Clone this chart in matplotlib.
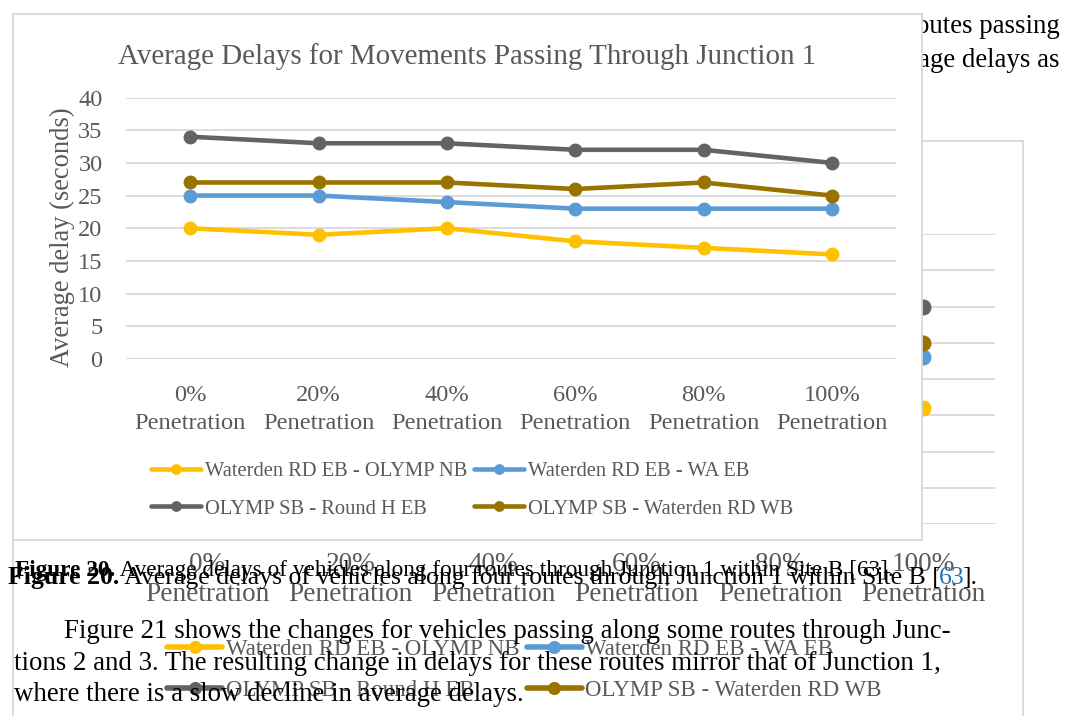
import matplotlib
matplotlib.use("Agg")
import matplotlib.pyplot as plt
from matplotlib.patches import Rectangle
from matplotlib.text import Annotation
from matplotlib.textpath import TextPath
from matplotlib.font_manager import FontProperties

SERIF = "Liberation Serif"
plt.rcParams["font.family"] = [SERIF, "DejaVu Serif"]

# data
categories = ["0%", "20%", "40%", "60%", "80%", "100%"]
tick_labels = [c + "\nPenetration" for c in categories]
series_names = [
    "Waterden RD EB - OLYMP NB",
    "Waterden RD EB - WA EB",
    "OLYMP SB - Round H EB",
    "OLYMP SB - Waterden RD WB",
]
yellow_vals = [20, 19, 20, 18, 17, 16]
blue_vals = [25, 25, 24, 23, 23, 23]
gray_vals = [34, 33, 33, 32, 32, 30]
brown_vals = [27, 27, 27, 26, 27, 25]
series_colors = ["#FFC000", "#5B9BD5", "#636363", "#997300"]

title = "Average Delays for Movements Passing Through Junction 1"
ylabel = "Average delay (seconds)"
caption_bold = "Figure 20."
caption_rest = " Average delays of vehicles along four routes through Junction 1 within Site B ["
caption_ref = "63"
body_lines = [
    "Figure 21 shows the changes for vehicles passing along some routes through Junc-",
    "tions 2 and 3. The resulting change in delays for these routes mirror that of Junction 1,",
    "where there is a slow decline in average delays.",
]
top_lines = ["routes passing", "average delays as"]

TXT = "#595959"
GRID = "#D9D9D9"
W, H = 1078, 716


def fx(x):
    return x / W


def fy(y):
    return 1 - y / H


def box(x0, y0, x1, y1):
    return [fx(x0), fy(y1), fx(x1) - fx(x0), fy(y0) - fy(y1)]


def fit(s, width_px, weight="normal"):
    # font size (pt) that makes s about width_px wide at 100 dpi
    w = TextPath((0, 0), s, size=10, prop=FontProperties(family=SERIF, weight=weight)).get_extents().width
    return 10 * width_px * 0.72 / w


def chain(parts, x, y, size, z):
    # pieces of one line in different styles, each placed after the previous one
    prev = None
    for s, dx, kw in parts:
        if prev is None:
            prev = fig.text(fx(x), fy(y), s, fontsize=size, va="baseline", zorder=z, **kw)
        else:
            a = Annotation(s, xy=(1, 0), xycoords=prev, xytext=(dx, 0), textcoords="offset points",
                           va="bottom", ha="left", fontsize=size, zorder=z, **kw)
            fig.add_artist(a)
            prev = a


all_vals = [yellow_vals, blue_vals, gray_vals, brown_vals]
order = [0, 2, 1, 3]  # so that rows read yellow/blue, gray/brown

fig = plt.figure(figsize=(W / 100, H / 100), dpi=100)

# ---- chart in the background (same data, larger) ----
fig.add_artist(Rectangle((fx(13), fy(760)), fx(1023) - fx(13), fy(141) - fy(760),
                         transform=fig.transFigure, fc="white", ec=GRID, lw=1.3, zorder=0))
bg = fig.add_axes(box(135.6, 234, 994.6, 524), zorder=0.5)
bg.set_facecolor("none")
bg_lines = []
for vals, name, c in zip(all_vals, series_names, series_colors):
    ln, = bg.plot(range(len(categories)), vals, color=c, lw=4, marker="o", ms=10.5,
                  mec=c, mfc=c, label=name, solid_capstyle="round")
    bg_lines.append(ln)
bg.set_xlim(-0.5, 5.5)
bg.set_ylim(0, 40)
bg.set_yticks(range(0, 45, 5))
bg.yaxis.grid(True, color=GRID, lw=1.3)
bg.set_axisbelow(True)
bg.set_xticks(range(len(categories)))
bg_tick = fit("Penetration", 123)
bg.set_xticklabels(tick_labels, fontsize=bg_tick, color=TXT, linespacing=1.25)
bg.tick_params(axis="x", length=0, pad=20.5)
bg.tick_params(axis="y", length=0, labelleft=False)
for sp in bg.spines.values():
    sp.set_visible(False)
bg_leg = fit("Waterden RD EB - WA EB", 246)
bg_fs = bg_leg * 100 / 72
bg_text_w = 290
bg.legend([bg_lines[i] for i in order], [series_names[i] for i in order], ncol=2,
          loc="center left", bbox_to_anchor=(fx(167), fy(670)), bbox_transform=fig.transFigure,
          frameon=False, fontsize=bg_leg, labelcolor=TXT, borderpad=0, borderaxespad=0,
          handlelength=55 / bg_fs, handletextpad=3.5 / bg_fs,
          columnspacing=(523 - 167 - 55 - 3.5 - bg_text_w) / bg_fs,
          labelspacing=(47 - 1.15 * bg_fs) / bg_fs, markerscale=0.8)

# ---- main chart ----
fig.add_artist(Rectangle((fx(13), fy(540)), fx(922) - fx(13), fy(14) - fy(540),
                         transform=fig.transFigure, fc="white", ec=GRID, lw=1.3, zorder=2))
ax = fig.add_axes(box(126, 97.5, 896, 359), zorder=3)
ax.set_facecolor("none")
lines = []
for vals, name, c in zip(all_vals, series_names, series_colors):
    ln, = ax.plot(range(len(categories)), vals, color=c, lw=3.3, marker="o", ms=9,
                  mec=c, mfc=c, label=name, solid_capstyle="round")
    lines.append(ln)
ax.set_xlim(-0.5, 5.5)
ax.set_ylim(0, 40)
ax.set_yticks(range(0, 45, 5))
ax.yaxis.grid(True, color=GRID, lw=1.3)
ax.set_axisbelow(True)
tick_fs = fit("Penetration", 110)
ax.set_xticks(range(len(categories)))
ax.set_xticklabels(tick_labels, fontsize=tick_fs, color=TXT, linespacing=1.45)
ax.tick_params(axis="x", length=0, pad=18.5)
ax.tick_params(axis="y", length=0, pad=16.8, labelsize=tick_fs, labelcolor=TXT)
for sp in ax.spines.values():
    sp.set_visible(False)
ax.set_ylabel(ylabel, fontsize=fit(ylabel, 259), color=TXT, va="center")
ax.yaxis.set_label_coords((62 - 126) / 770, (359 - 237) / 261.5)

fig.text(fx(467.5), fy(64), title, ha="center", va="baseline", color=TXT,
         fontsize=fit(title, 697), zorder=4)

leg = fit("Waterden RD EB - OLYMP NB", 261)
fs = leg * 100 / 72
ax.legend([lines[i] for i in order], [series_names[i] for i in order], ncol=2,
          loc="center left", bbox_to_anchor=(fx(151), fy(490)), bbox_transform=fig.transFigure,
          frameon=False, fontsize=leg, labelcolor=TXT, borderpad=0, borderaxespad=0,
          handlelength=50 / fs, handletextpad=4 / fs, columnspacing=7 / fs,
          labelspacing=(42 - 1.15 * fs) / fs, markerscale=0.75)

# ---- page text around the charts ----
body_fs = fit(body_lines[0], 886)
for s, y in zip(top_lines, [33, 67]):
    fig.text(fx(1060), fy(y), s, ha="right", va="baseline", fontsize=body_fs, zorder=1)

cap_full = caption_bold + caption_rest + caption_ref + "]."
small_fs = fit(cap_full, 870)
chain([(caption_bold, 0, dict(weight="bold")), (caption_rest + caption_ref + "].", 0, {})],
      15, 576, small_fs, 10)
big_fs = fit(cap_full, 966)
chain([(caption_bold, 0, dict(weight="bold")), (caption_rest, 0, {}),
       (caption_ref, -1.6, dict(color="#1B75BC")), ("].", -1.6, {})], 8, 584, big_fs, 11)

fig.text(fx(64), fy(638), body_lines[0], va="baseline", fontsize=body_fs, zorder=10)
fig.text(fx(14), fy(670), body_lines[1], va="baseline", fontsize=body_fs, zorder=10)
fig.text(fx(14), fy(701), body_lines[2], va="baseline", fontsize=body_fs, zorder=10)

fig.savefig("out.png", dpi=100)
